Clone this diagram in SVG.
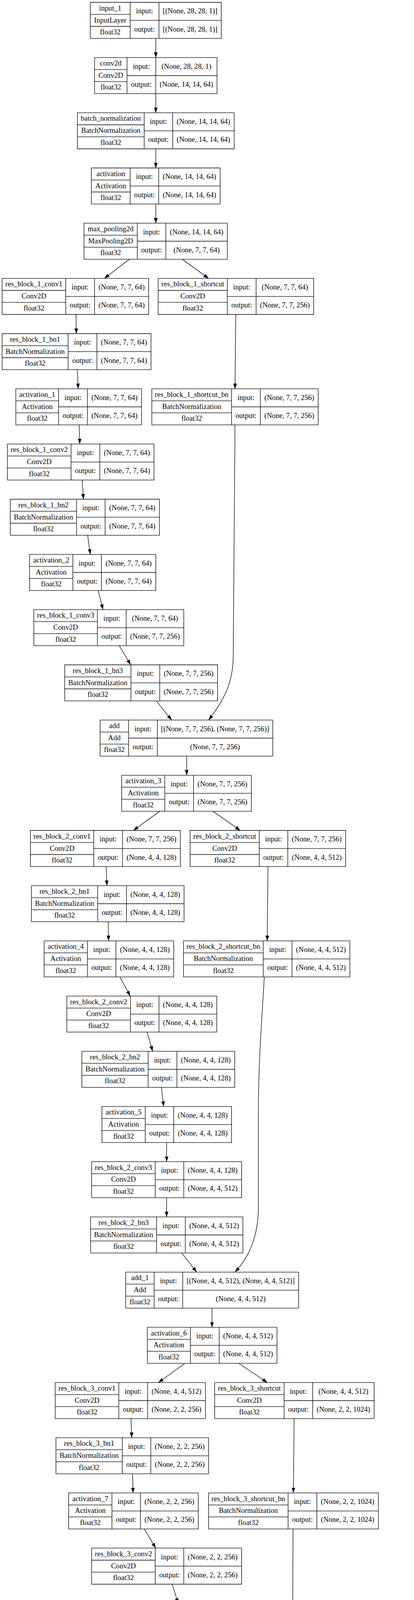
<svg xmlns="http://www.w3.org/2000/svg" width="1059" height="6605" viewBox="0 0 1059 6605">
<style>
.b{fill:#fff;stroke:#000;stroke-width:1.33}
text{font-family:"Liberation Serif","Times New Roman",serif;font-size:18.67px;text-anchor:middle;fill:#000}
.e{fill:none;stroke:#000;stroke-width:1.33;marker-end:url(#ah)}
</style>
<defs>
<marker id="ah" viewBox="0 0 10 7" refX="10" refY="3.5" markerWidth="10" markerHeight="7" orient="auto" markerUnits="strokeWidth"><path d="M0,0L10,3.5L0,7z" fill="#000"/></marker>
</defs>
<rect width="1059" height="6605" fill="#fff"/>
<g id="connectors">
<path class="e" d="M398.5 98.3L398.5 147.3"/>
<path class="e" d="M398.5 239.6L398.5 288.7"/>
<path class="e" d="M398.5 381L398.5 430"/>
<path class="e" d="M398.5 522.3L398.5 571.3"/>
<path class="e" d="M331 663.6L266.8 712.7"/>
<path class="e" d="M466 663.6L533.6 712.7"/>
<path class="e" d="M194.5 805L195.2 854"/>
<path class="e" d="M197.9 946.3L199.9 995.3"/>
<path class="e" d="M603.1 805L601.1 995.3"/>
<path class="e" d="M202.6 1087.6L204 1136.6"/>
<path class="e" d="M210.1 1228.9L213.4 1278"/>
<path class="e" d="M224.2 1370.3L231 1419.3"/>
<path class="e" d="M251.3 1511.6L263.4 1560.6"/>
<path class="e" d="M305 1652.9L334.3 1702"/>
<path class="e" d="M399.8 1794.3L439 1843.3"/>
<path class="e" d="M601.1 1087.6L596.6 1680C596.2 1745 575 1790 533.6 1843.3"/>
<path class="e" d="M477.5 1935.6L477.5 1984.6"/>
<path class="e" d="M408.6 2076.9L341.1 2126"/>
<path class="e" d="M545.1 2076.9L614.6 2126"/>
<path class="e" d="M271.5 2218.3L273.5 2267.3"/>
<path class="e" d="M276.9 2359.6L277.6 2408.6"/>
<path class="e" d="M685.5 2218.3L683.5 2408.6"/>
<path class="e" d="M306.6 2500.9L333 2549.9"/>
<path class="e" d="M376.2 2642.2L390.4 2691.3"/>
<path class="e" d="M412.7 2783.6L418.7 2832.6"/>
<path class="e" d="M426.2 2924.9L426.2 2973.9"/>
<path class="e" d="M426.2 3066.2L426.2 3115.3"/>
<path class="e" d="M464.7 3207.6L503.2 3256.6"/>
<path class="e" d="M676.1 2500.9C668 2640 661 2720 661 2850L661 3090C661 3160 640 3215 601.1 3256.6"/>
<path class="e" d="M542.3 3348.9L542.3 3397.9"/>
<path class="e" d="M472.8 3490.2L405.2 3539.3"/>
<path class="e" d="M611.2 3490.2L683.5 3539.3"/>
<path class="e" d="M335 3631.6L337 3680.6"/>
<path class="e" d="M339.1 3772.9L340.4 3821.9"/>
<path class="e" d="M752.4 3631.6L750.4 3821.9"/>
<path class="e" d="M368.8 3914.2L398.5 3963.2"/>
<path class="e" d="M440.4 4055.5L455.9 4104.6"/>
<path class="e" d="M476.8 4196.9L483.6 4245.9"/>
<path class="e" d="M494.4 4338.2L497.8 4387.2"/>
<path class="e" d="M502.5 4479.5L503.9 4528.6"/>
<path class="e" d="M545.7 4620.9L586.3 4669.9"/>
<path class="e" d="M749.7 3914.2L747 4420C747 4540 718 4625 684.2 4669.9"/>
<path class="e" d="M624.7 4762.2L624.7 4811.2"/>
<path class="e" d="M555.9 4903.5L486.3 4952.6"/>
<path class="e" d="M694.3 4903.5L766.6 4952.6"/>
<path class="e" d="M415.4 5044.9L417.4 5093.9"/>
<path class="e" d="M420.8 5186.2L421.5 5235.2"/>
<path class="e" d="M838.2 5044.9L836.1 5235.2"/>
<path class="e" d="M450.5 5327.5L479.5 5376.5"/>
<path class="e" d="M524.1 5468.8L538.3 5517.9"/>
<path class="e" d="M560.6 5610.2L566 5659.2"/>
<path class="e" d="M578.1 5751.5L581.5 5800.5"/>
<path class="e" d="M587.6 5892.8L588.9 5941.9"/>
<path class="e" d="M629.5 6034.2L670.7 6083.2"/>
<path class="e" d="M834.8 5327.5L830.7 5900C830.5 5990 805 6030 766.6 6083.2"/>
<path class="e" d="M708.5 6175.5L708.5 6224.5"/>
<path class="e" d="M708.5 6316.8L708.5 6365.8"/>
<path class="e" d="M708.5 6458.1L708.5 6507.2"/>
</g>

<g id="input_1" transform="translate(231,6)"><path class="b" d="M0 0H335V92.3H0ZM102 0V92.3M175.6 0V92.3M0 30.8H102M0 61.5H102M102 46.2H335"/><text x="51" y="20.7">input_1</text><text x="51" y="51.5">InputLayer</text><text x="51" y="82.2">float32</text><text x="138.8" y="28.4">input:</text><text x="138.8" y="74.5">output:</text><text x="255.3" y="28.4">[(None, 28, 28, 1)]</text><text x="255.3" y="74.5">[(None, 28, 28, 1)]</text></g>

<g id="conv2d" transform="translate(241.8,147.3)"><path class="b" d="M0 0H313.4V92.3H0ZM83.1 0V92.3M156.7 0V92.3M0 30.8H83.1M0 61.5H83.1M83.1 46.2H313.4"/><text x="41.6" y="20.7">conv2d</text><text x="41.6" y="51.5">Conv2D</text><text x="41.6" y="82.2">float32</text><text x="119.9" y="28.4">input:</text><text x="119.9" y="74.5">output:</text><text x="235.1" y="28.4">(None, 28, 28, 1)</text><text x="235.1" y="74.5">(None, 14, 14, 64)</text></g>

<g id="batch_normalization" transform="translate(197.9,288.7)"><path class="b" d="M0 0H401.2V92.3H0ZM170.9 0V92.3M243.8 0V92.3M0 30.8H170.9M0 61.5H170.9M170.9 46.2H401.2"/><text x="85.5" y="20.7">batch_normalization</text><text x="85.5" y="51.5">BatchNormalization</text><text x="85.5" y="82.2">float32</text><text x="207.4" y="28.4">input:</text><text x="207.4" y="74.5">output:</text><text x="322.5" y="28.4">(None, 14, 14, 64)</text><text x="322.5" y="74.5">(None, 14, 14, 64)</text></g>

<g id="activation" transform="translate(233.7,430)"><path class="b" d="M0 0H329.6V92.3H0ZM99.3 0V92.3M172.2 0V92.3M0 30.8H99.3M0 61.5H99.3M99.3 46.2H329.6"/><text x="49.7" y="20.7">activation</text><text x="49.7" y="51.5">Activation</text><text x="49.7" y="82.2">float32</text><text x="135.8" y="28.4">input:</text><text x="135.8" y="74.5">output:</text><text x="250.9" y="28.4">(None, 14, 14, 64)</text><text x="250.9" y="74.5">(None, 14, 14, 64)</text></g>

<g id="max_pooling2d" transform="translate(214.8,571.3)"><path class="b" d="M0 0H366.7V92.3H0ZM136.4 0V92.3M209.4 0V92.3M0 30.8H136.4M0 61.5H136.4M136.4 46.2H366.7"/><text x="68.2" y="20.7">max_pooling2d</text><text x="68.2" y="51.5">MaxPooling2D</text><text x="68.2" y="82.2">float32</text><text x="172.9" y="28.4">input:</text><text x="172.9" y="74.5">output:</text><text x="288.1" y="28.4">(None, 14, 14, 64)</text><text x="288.1" y="74.5">(None, 7, 7, 64)</text></g>

<g id="res_block_1_conv1" transform="translate(5.4,712.7)"><path class="b" d="M0 0H374.9V92.3H0ZM162.8 0V92.3M236.4 0V92.3M0 30.8H162.8M0 61.5H162.8M162.8 46.2H374.9"/><text x="81.4" y="20.7">res_block_1_conv1</text><text x="81.4" y="51.5">Conv2D</text><text x="81.4" y="82.2">float32</text><text x="199.6" y="28.4">input:</text><text x="199.6" y="74.5">output:</text><text x="305.7" y="28.4">(None, 7, 7, 64)</text><text x="305.7" y="74.5">(None, 7, 7, 64)</text></g>

<g id="res_block_1_shortcut" transform="translate(404.6,712.7)"><path class="b" d="M0 0H397.8V92.3H0ZM176.9 0V92.3M250.5 0V92.3M0 30.8H176.9M0 61.5H176.9M176.9 46.2H397.8"/><text x="88.5" y="20.7">res_block_1_shortcut</text><text x="88.5" y="51.5">Conv2D</text><text x="88.5" y="82.2">float32</text><text x="213.7" y="28.4">input:</text><text x="213.7" y="74.5">output:</text><text x="324.2" y="28.4">(None, 7, 7, 64)</text><text x="324.2" y="74.5">(None, 7, 7, 256)</text></g>

<g id="res_block_1_bn1" transform="translate(5.4,854)"><path class="b" d="M0 0H380.9V92.3H0ZM168.9 0V92.3M242.5 0V92.3M0 30.8H168.9M0 61.5H168.9M168.9 46.2H380.9"/><text x="84.5" y="20.7">res_block_1_bn1</text><text x="84.5" y="51.5">BatchNormalization</text><text x="84.5" y="82.2">float32</text><text x="205.7" y="28.4">input:</text><text x="205.7" y="74.5">output:</text><text x="311.7" y="28.4">(None, 7, 7, 64)</text><text x="311.7" y="74.5">(None, 7, 7, 64)</text></g>

<g id="activation_1" transform="translate(40.5,995.3)"><path class="b" d="M0 0H321.5V92.3H0ZM109.4 0V92.3M183.1 0V92.3M0 30.8H109.4M0 61.5H109.4M109.4 46.2H321.5"/><text x="54.7" y="20.7">activation_1</text><text x="54.7" y="51.5">Activation</text><text x="54.7" y="82.2">float32</text><text x="146.3" y="28.4">input:</text><text x="146.3" y="74.5">output:</text><text x="252.3" y="28.4">(None, 7, 7, 64)</text><text x="252.3" y="74.5">(None, 7, 7, 64)</text></g>

<g id="res_block_1_shortcut_bn" transform="translate(388.4,995.3)"><path class="b" d="M0 0H425.5V92.3H0ZM203.9 0V92.3M277.5 0V92.3M0 30.8H203.9M0 61.5H203.9M203.9 46.2H425.5"/><text x="102" y="20.7">res_block_1_shortcut_bn</text><text x="102" y="51.5">BatchNormalization</text><text x="102" y="82.2">float32</text><text x="240.7" y="28.4">input:</text><text x="240.7" y="74.5">output:</text><text x="351.5" y="28.4">(None, 7, 7, 256)</text><text x="351.5" y="74.5">(None, 7, 7, 256)</text></g>

<g id="res_block_1_conv2" transform="translate(18.9,1136.6)"><path class="b" d="M0 0H374.9V92.3H0ZM162.8 0V92.3M236.4 0V92.3M0 30.8H162.8M0 61.5H162.8M162.8 46.2H374.9"/><text x="81.4" y="20.7">res_block_1_conv2</text><text x="81.4" y="51.5">Conv2D</text><text x="81.4" y="82.2">float32</text><text x="199.6" y="28.4">input:</text><text x="199.6" y="74.5">output:</text><text x="305.7" y="28.4">(None, 7, 7, 64)</text><text x="305.7" y="74.5">(None, 7, 7, 64)</text></g>

<g id="res_block_1_bn2" transform="translate(26.3,1278)"><path class="b" d="M0 0H381.6V92.3H0ZM169.6 0V92.3M242.5 0V92.3M0 30.8H169.6M0 61.5H169.6M169.6 46.2H381.6"/><text x="84.8" y="20.7">res_block_1_bn2</text><text x="84.8" y="51.5">BatchNormalization</text><text x="84.8" y="82.2">float32</text><text x="206.1" y="28.4">input:</text><text x="206.1" y="74.5">output:</text><text x="312.1" y="28.4">(None, 7, 7, 64)</text><text x="312.1" y="74.5">(None, 7, 7, 64)</text></g>

<g id="activation_2" transform="translate(75.6,1419.3)"><path class="b" d="M0 0H322.9V92.3H0ZM110.8 0V92.3M183.8 0V92.3M0 30.8H110.8M0 61.5H110.8M110.8 46.2H322.9"/><text x="55.4" y="20.7">activation_2</text><text x="55.4" y="51.5">Activation</text><text x="55.4" y="82.2">float32</text><text x="147.3" y="28.4">input:</text><text x="147.3" y="74.5">output:</text><text x="253.4" y="28.4">(None, 7, 7, 64)</text><text x="253.4" y="74.5">(None, 7, 7, 64)</text></g>

<g id="res_block_1_conv3" transform="translate(86.5,1560.6)"><path class="b" d="M0 0H383.6V92.3H0ZM162.7 0V92.3M236.3 0V92.3M0 30.8H162.7M0 61.5H162.7M162.7 46.2H383.6"/><text x="81.4" y="20.7">res_block_1_conv3</text><text x="81.4" y="51.5">Conv2D</text><text x="81.4" y="82.2">float32</text><text x="199.5" y="28.4">input:</text><text x="199.5" y="74.5">output:</text><text x="310" y="28.4">(None, 7, 7, 64)</text><text x="310" y="74.5">(None, 7, 7, 256)</text></g>

<g id="res_block_1_bn3" transform="translate(165.5,1702)"><path class="b" d="M0 0H391V92.3H0ZM169.5 0V92.3M243.1 0V92.3M0 30.8H169.5M0 61.5H169.5M169.5 46.2H391"/><text x="84.8" y="20.7">res_block_1_bn3</text><text x="84.8" y="51.5">BatchNormalization</text><text x="84.8" y="82.2">float32</text><text x="206.3" y="28.4">input:</text><text x="206.3" y="74.5">output:</text><text x="317.1" y="28.4">(None, 7, 7, 256)</text><text x="317.1" y="74.5">(None, 7, 7, 256)</text></g>

<g id="add" transform="translate(256,1843.3)"><path class="b" d="M0 0H441.7V92.3H0ZM72.9 0V92.3M146.5 0V92.3M0 30.8H72.9M0 61.5H72.9M72.9 46.2H441.7"/><text x="36.5" y="20.7">add</text><text x="36.5" y="51.5">Add</text><text x="36.5" y="82.2">float32</text><text x="109.7" y="28.4">input:</text><text x="109.7" y="74.5">output:</text><text x="294.1" y="28.4">[(None, 7, 7, 256), (None, 7, 7, 256)]</text><text x="294.1" y="74.5">(None, 7, 7, 256)</text></g>

<g id="activation_3" transform="translate(311.4,1984.6)"><path class="b" d="M0 0H331.6V92.3H0ZM110.1 0V92.3M183.7 0V92.3M0 30.8H110.1M0 61.5H110.1M110.1 46.2H331.6"/><text x="55.1" y="20.7">activation_3</text><text x="55.1" y="51.5">Activation</text><text x="55.1" y="82.2">float32</text><text x="146.9" y="28.4">input:</text><text x="146.9" y="74.5">output:</text><text x="257.7" y="28.4">(None, 7, 7, 256)</text><text x="257.7" y="74.5">(None, 7, 7, 256)</text></g>

<g id="res_block_2_conv1" transform="translate(77.7,2126)"><path class="b" d="M0 0H383.6V92.3H0ZM162.1 0V92.3M235.7 0V92.3M0 30.8H162.1M0 61.5H162.1M162.1 46.2H383.6"/><text x="81.1" y="20.7">res_block_2_conv1</text><text x="81.1" y="51.5">Conv2D</text><text x="81.1" y="82.2">float32</text><text x="198.9" y="28.4">input:</text><text x="198.9" y="74.5">output:</text><text x="309.7" y="28.4">(None, 7, 7, 256)</text><text x="309.7" y="74.5">(None, 4, 4, 128)</text></g>

<g id="res_block_2_shortcut" transform="translate(486.3,2126)"><path class="b" d="M0 0H397.8V92.3H0ZM176.9 0V92.3M249.9 0V92.3M0 30.8H176.9M0 61.5H176.9M176.9 46.2H397.8"/><text x="88.5" y="20.7">res_block_2_shortcut</text><text x="88.5" y="51.5">Conv2D</text><text x="88.5" y="82.2">float32</text><text x="213.4" y="28.4">input:</text><text x="213.4" y="74.5">output:</text><text x="323.9" y="28.4">(None, 7, 7, 256)</text><text x="323.9" y="74.5">(None, 4, 4, 512)</text></g>

<g id="res_block_2_bn1" transform="translate(80.4,2267.3)"><path class="b" d="M0 0H390.4V92.3H0ZM169.5 0V92.3M243.1 0V92.3M0 30.8H169.5M0 61.5H169.5M169.5 46.2H390.4"/><text x="84.8" y="20.7">res_block_2_bn1</text><text x="84.8" y="51.5">BatchNormalization</text><text x="84.8" y="82.2">float32</text><text x="206.3" y="28.4">input:</text><text x="206.3" y="74.5">output:</text><text x="316.8" y="28.4">(None, 4, 4, 128)</text><text x="316.8" y="74.5">(None, 4, 4, 128)</text></g>

<g id="activation_4" transform="translate(112.8,2408.6)"><path class="b" d="M0 0H331.6V92.3H0ZM110.8 0V92.3M183.7 0V92.3M0 30.8H110.8M0 61.5H110.8M110.8 46.2H331.6"/><text x="55.4" y="20.7">activation_4</text><text x="55.4" y="51.5">Activation</text><text x="55.4" y="82.2">float32</text><text x="147.3" y="28.4">input:</text><text x="147.3" y="74.5">output:</text><text x="257.7" y="28.4">(None, 4, 4, 128)</text><text x="257.7" y="74.5">(None, 4, 4, 128)</text></g>

<g id="res_block_2_shortcut_bn" transform="translate(469.4,2408.6)"><path class="b" d="M0 0H425.5V92.3H0ZM204 0V92.3M277.6 0V92.3M0 30.8H204M0 61.5H204M204 46.2H425.5"/><text x="102" y="20.7">res_block_2_shortcut_bn</text><text x="102" y="51.5">BatchNormalization</text><text x="102" y="82.2">float32</text><text x="240.8" y="28.4">input:</text><text x="240.8" y="74.5">output:</text><text x="351.6" y="28.4">(None, 4, 4, 512)</text><text x="351.6" y="74.5">(None, 4, 4, 512)</text></g>

<g id="res_block_2_conv2" transform="translate(170.9,2549.9)"><path class="b" d="M0 0H383.6V92.3H0ZM162.7 0V92.3M235.7 0V92.3M0 30.8H162.7M0 61.5H162.7M162.7 46.2H383.6"/><text x="81.4" y="20.7">res_block_2_conv2</text><text x="81.4" y="51.5">Conv2D</text><text x="81.4" y="82.2">float32</text><text x="199.2" y="28.4">input:</text><text x="199.2" y="74.5">output:</text><text x="309.7" y="28.4">(None, 4, 4, 128)</text><text x="309.7" y="74.5">(None, 4, 4, 128)</text></g>

<g id="res_block_2_bn2" transform="translate(209.4,2691.3)"><path class="b" d="M0 0H391V92.3H0ZM169.5 0V92.3M243.1 0V92.3M0 30.8H169.5M0 61.5H169.5M169.5 46.2H391"/><text x="84.8" y="20.7">res_block_2_bn2</text><text x="84.8" y="51.5">BatchNormalization</text><text x="84.8" y="82.2">float32</text><text x="206.3" y="28.4">input:</text><text x="206.3" y="74.5">output:</text><text x="317.1" y="28.4">(None, 4, 4, 128)</text><text x="317.1" y="74.5">(None, 4, 4, 128)</text></g>

<g id="activation_5" transform="translate(260.7,2832.6)"><path class="b" d="M0 0H331.6V92.3H0ZM110.8 0V92.3M183.7 0V92.3M0 30.8H110.8M0 61.5H110.8M110.8 46.2H331.6"/><text x="55.4" y="20.7">activation_5</text><text x="55.4" y="51.5">Activation</text><text x="55.4" y="82.2">float32</text><text x="147.3" y="28.4">input:</text><text x="147.3" y="74.5">output:</text><text x="257.7" y="28.4">(None, 4, 4, 128)</text><text x="257.7" y="74.5">(None, 4, 4, 128)</text></g>

<g id="res_block_2_conv3" transform="translate(234.4,2973.9)"><path class="b" d="M0 0H383.6V92.3H0ZM162.7 0V92.3M235.7 0V92.3M0 30.8H162.7M0 61.5H162.7M162.7 46.2H383.6"/><text x="81.4" y="20.7">res_block_2_conv3</text><text x="81.4" y="51.5">Conv2D</text><text x="81.4" y="82.2">float32</text><text x="199.2" y="28.4">input:</text><text x="199.2" y="74.5">output:</text><text x="309.7" y="28.4">(None, 4, 4, 128)</text><text x="309.7" y="74.5">(None, 4, 4, 512)</text></g>

<g id="res_block_2_bn3" transform="translate(231.7,3115.3)"><path class="b" d="M0 0H389.7V92.3H0ZM168.8 0V92.3M242.4 0V92.3M0 30.8H168.8M0 61.5H168.8M168.8 46.2H389.7"/><text x="84.4" y="20.7">res_block_2_bn3</text><text x="84.4" y="51.5">BatchNormalization</text><text x="84.4" y="82.2">float32</text><text x="205.6" y="28.4">input:</text><text x="205.6" y="74.5">output:</text><text x="316.1" y="28.4">(None, 4, 4, 512)</text><text x="316.1" y="74.5">(None, 4, 4, 512)</text></g>

<g id="add_1" transform="translate(321.5,3256.6)"><path class="b" d="M0 0H442.4V92.3H0ZM72.9 0V92.3M145.9 0V92.3M0 30.8H72.9M0 61.5H72.9M72.9 46.2H442.4"/><text x="36.5" y="20.7">add_1</text><text x="36.5" y="51.5">Add</text><text x="36.5" y="82.2">float32</text><text x="109.4" y="28.4">input:</text><text x="109.4" y="74.5">output:</text><text x="294.2" y="28.4">[(None, 4, 4, 512), (None, 4, 4, 512)]</text><text x="294.2" y="74.5">(None, 4, 4, 512)</text></g>

<g id="activation_6" transform="translate(376.9,3397.9)"><path class="b" d="M0 0H331.6V92.3H0ZM110.1 0V92.3M183.7 0V92.3M0 30.8H110.1M0 61.5H110.1M110.1 46.2H331.6"/><text x="55.1" y="20.7">activation_6</text><text x="55.1" y="51.5">Activation</text><text x="55.1" y="82.2">float32</text><text x="146.9" y="28.4">input:</text><text x="146.9" y="74.5">output:</text><text x="257.7" y="28.4">(None, 4, 4, 512)</text><text x="257.7" y="74.5">(None, 4, 4, 512)</text></g>

<g id="res_block_3_conv1" transform="translate(141.2,3539.3)"><path class="b" d="M0 0H384.3V92.3H0ZM162.7 0V92.3M236.4 0V92.3M0 30.8H162.7M0 61.5H162.7M162.7 46.2H384.3"/><text x="81.4" y="20.7">res_block_3_conv1</text><text x="81.4" y="51.5">Conv2D</text><text x="81.4" y="82.2">float32</text><text x="199.6" y="28.4">input:</text><text x="199.6" y="74.5">output:</text><text x="310.4" y="28.4">(None, 4, 4, 512)</text><text x="310.4" y="74.5">(None, 2, 2, 256)</text></g>

<g id="res_block_3_shortcut" transform="translate(549.1,3539.3)"><path class="b" d="M0 0H407.9V92.3H0ZM177.6 0V92.3M250.6 0V92.3M0 30.8H177.6M0 61.5H177.6M177.6 46.2H407.9"/><text x="88.8" y="20.7">res_block_3_shortcut</text><text x="88.8" y="51.5">Conv2D</text><text x="88.8" y="82.2">float32</text><text x="214.1" y="28.4">input:</text><text x="214.1" y="74.5">output:</text><text x="329.3" y="28.4">(None, 4, 4, 512)</text><text x="329.3" y="74.5">(None, 2, 2, 1024)</text></g>

<g id="res_block_3_bn1" transform="translate(143.2,3680.6)"><path class="b" d="M0 0H390.4V92.3H0ZM169.5 0V92.3M242.5 0V92.3M0 30.8H169.5M0 61.5H169.5M169.5 46.2H390.4"/><text x="84.8" y="20.7">res_block_3_bn1</text><text x="84.8" y="51.5">BatchNormalization</text><text x="84.8" y="82.2">float32</text><text x="206" y="28.4">input:</text><text x="206" y="74.5">output:</text><text x="316.5" y="28.4">(None, 2, 2, 256)</text><text x="316.5" y="74.5">(None, 2, 2, 256)</text></g>

<g id="activation_7" transform="translate(175.6,3821.9)"><path class="b" d="M0 0H331.6V92.3H0ZM110.8 0V92.3M183.7 0V92.3M0 30.8H110.8M0 61.5H110.8M110.8 46.2H331.6"/><text x="55.4" y="20.7">activation_7</text><text x="55.4" y="51.5">Activation</text><text x="55.4" y="82.2">float32</text><text x="147.3" y="28.4">input:</text><text x="147.3" y="74.5">output:</text><text x="257.7" y="28.4">(None, 2, 2, 256)</text><text x="257.7" y="74.5">(None, 2, 2, 256)</text></g>

<g id="res_block_3_shortcut_bn" transform="translate(533.6,3821.9)"><path class="b" d="M0 0H434.3V92.3H0ZM203.3 0V92.3M276.9 0V92.3M0 30.8H203.3M0 61.5H203.3M203.3 46.2H434.3"/><text x="101.7" y="20.7">res_block_3_shortcut_bn</text><text x="101.7" y="51.5">BatchNormalization</text><text x="101.7" y="82.2">float32</text><text x="240.1" y="28.4">input:</text><text x="240.1" y="74.5">output:</text><text x="355.6" y="28.4">(None, 2, 2, 1024)</text><text x="355.6" y="74.5">(None, 2, 2, 1024)</text></g>

<g id="res_block_3_conv2" transform="translate(234.4,3963.2)"><path class="b" d="M0 0H383.6V92.3H0ZM162.7 0V92.3M235.7 0V92.3M0 30.8H162.7M0 61.5H162.7M162.7 46.2H383.6"/><text x="81.4" y="20.7">res_block_3_conv2</text><text x="81.4" y="51.5">Conv2D</text><text x="81.4" y="82.2">float32</text><text x="199.2" y="28.4">input:</text><text x="199.2" y="74.5">output:</text><text x="309.7" y="28.4">(None, 2, 2, 256)</text><text x="309.7" y="74.5">(None, 2, 2, 256)</text></g>

<g id="res_block_3_bn2" transform="translate(273.5,4104.6)"><path class="b" d="M0 0H391.1V92.3H0ZM169.6 0V92.3M243.2 0V92.3M0 30.8H169.6M0 61.5H169.6M169.6 46.2H391.1"/><text x="84.8" y="20.7">res_block_3_bn2</text><text x="84.8" y="51.5">BatchNormalization</text><text x="84.8" y="82.2">float32</text><text x="206.4" y="28.4">input:</text><text x="206.4" y="74.5">output:</text><text x="317.2" y="28.4">(None, 2, 2, 256)</text><text x="317.2" y="74.5">(None, 2, 2, 256)</text></g>

<g id="activation_8" transform="translate(324.9,4245.9)"><path class="b" d="M0 0H331.6V92.3H0ZM110.7 0V92.3M183.7 0V92.3M0 30.8H110.7M0 61.5H110.7M110.7 46.2H331.6"/><text x="55.4" y="20.7">activation_8</text><text x="55.4" y="51.5">Activation</text><text x="55.4" y="82.2">float32</text><text x="147.2" y="28.4">input:</text><text x="147.2" y="74.5">output:</text><text x="257.7" y="28.4">(None, 2, 2, 256)</text><text x="257.7" y="74.5">(None, 2, 2, 256)</text></g>

<g id="res_block_3_conv3" transform="translate(304.6,4387.2)"><path class="b" d="M0 0H393.1V92.3H0ZM162.8 0V92.3M236.4 0V92.3M0 30.8H162.8M0 61.5H162.8M162.8 46.2H393.1"/><text x="81.4" y="20.7">res_block_3_conv3</text><text x="81.4" y="51.5">Conv2D</text><text x="81.4" y="82.2">float32</text><text x="199.6" y="28.4">input:</text><text x="199.6" y="74.5">output:</text><text x="314.8" y="28.4">(None, 2, 2, 256)</text><text x="314.8" y="74.5">(None, 2, 2, 1024)</text></g>

<g id="res_block_3_bn3" transform="translate(306.6,4528.6)"><path class="b" d="M0 0H399.9V92.3H0ZM169.6 0V92.3M242.5 0V92.3M0 30.8H169.6M0 61.5H169.6M169.6 46.2H399.9"/><text x="84.8" y="20.7">res_block_3_bn3</text><text x="84.8" y="51.5">BatchNormalization</text><text x="84.8" y="82.2">float32</text><text x="206.1" y="28.4">input:</text><text x="206.1" y="74.5">output:</text><text x="321.2" y="28.4">(None, 2, 2, 1024)</text><text x="321.2" y="74.5">(None, 2, 2, 1024)</text></g>

<g id="add_2" transform="translate(394.4,4669.9)"><path class="b" d="M0 0H461.3V92.3H0ZM73 0V92.3M147.3 0V92.3M0 30.8H73M0 61.5H73M73 46.2H461.3"/><text x="36.5" y="20.7">add_2</text><text x="36.5" y="51.5">Add</text><text x="36.5" y="82.2">float32</text><text x="110.2" y="28.4">input:</text><text x="110.2" y="74.5">output:</text><text x="304.3" y="28.4">[(None, 2, 2, 1024), (None, 2, 2, 1024)]</text><text x="304.3" y="74.5">(None, 2, 2, 1024)</text></g>

<g id="activation_9" transform="translate(454.5,4811.2)"><path class="b" d="M0 0H341.1V92.3H0ZM110.8 0V92.3M183.8 0V92.3M0 30.8H110.8M0 61.5H110.8M110.8 46.2H341.1"/><text x="55.4" y="20.7">activation_9</text><text x="55.4" y="51.5">Activation</text><text x="55.4" y="82.2">float32</text><text x="147.3" y="28.4">input:</text><text x="147.3" y="74.5">output:</text><text x="262.5" y="28.4">(None, 2, 2, 1024)</text><text x="262.5" y="74.5">(None, 2, 2, 1024)</text></g>

<g id="res_block_4_conv1" transform="translate(216.1,4952.6)"><path class="b" d="M0 0H393.8V92.3H0ZM163.5 0V92.3M236.4 0V92.3M0 30.8H163.5M0 61.5H163.5M163.5 46.2H393.8"/><text x="81.8" y="20.7">res_block_4_conv1</text><text x="81.8" y="51.5">Conv2D</text><text x="81.8" y="82.2">float32</text><text x="200" y="28.4">input:</text><text x="200" y="74.5">output:</text><text x="315.1" y="28.4">(None, 2, 2, 1024)</text><text x="315.1" y="74.5">(None, 1, 1, 512)</text></g>

<g id="res_block_4_shortcut" transform="translate(634.9,4952.6)"><path class="b" d="M0 0H407.3V92.3H0ZM176.9 0V92.3M249.9 0V92.3M0 30.8H176.9M0 61.5H176.9M176.9 46.2H407.3"/><text x="88.5" y="20.7">res_block_4_shortcut</text><text x="88.5" y="51.5">Conv2D</text><text x="88.5" y="82.2">float32</text><text x="213.4" y="28.4">input:</text><text x="213.4" y="74.5">output:</text><text x="328.6" y="28.4">(None, 2, 2, 1024)</text><text x="328.6" y="74.5">(None, 1, 1, 2048)</text></g>

<g id="res_block_4_bn1" transform="translate(224.9,5093.9)"><path class="b" d="M0 0H389.7V92.3H0ZM168.9 0V92.3M242.5 0V92.3M0 30.8H168.9M0 61.5H168.9M168.9 46.2H389.7"/><text x="84.5" y="20.7">res_block_4_bn1</text><text x="84.5" y="51.5">BatchNormalization</text><text x="84.5" y="82.2">float32</text><text x="205.7" y="28.4">input:</text><text x="205.7" y="74.5">output:</text><text x="316.1" y="28.4">(None, 1, 1, 512)</text><text x="316.1" y="74.5">(None, 1, 1, 512)</text></g>

<g id="activation_10" transform="translate(251.9,5235.2)"><path class="b" d="M0 0H341.1V92.3H0ZM119.6 0V92.3M193.2 0V92.3M0 30.8H119.6M0 61.5H119.6M119.6 46.2H341.1"/><text x="59.8" y="20.7">activation_10</text><text x="59.8" y="51.5">Activation</text><text x="59.8" y="82.2">float32</text><text x="156.4" y="28.4">input:</text><text x="156.4" y="74.5">output:</text><text x="267.2" y="28.4">(None, 1, 1, 512)</text><text x="267.2" y="74.5">(None, 1, 1, 512)</text></g>

<g id="res_block_4_shortcut_bn" transform="translate(618.7,5235.2)"><path class="b" d="M0 0H434.3V92.3H0ZM203.9 0V92.3M276.9 0V92.3M0 30.8H203.9M0 61.5H203.9M203.9 46.2H434.3"/><text x="102" y="20.7">res_block_4_shortcut_bn</text><text x="102" y="51.5">BatchNormalization</text><text x="102" y="82.2">float32</text><text x="240.4" y="28.4">input:</text><text x="240.4" y="74.5">output:</text><text x="355.6" y="28.4">(None, 1, 1, 2048)</text><text x="355.6" y="74.5">(None, 1, 1, 2048)</text></g>

<g id="res_block_4_conv2" transform="translate(317.4,5376.5)"><path class="b" d="M0 0H383.7V92.3H0ZM162.8 0V92.3M235.8 0V92.3M0 30.8H162.8M0 61.5H162.8M162.8 46.2H383.7"/><text x="81.4" y="20.7">res_block_4_conv2</text><text x="81.4" y="51.5">Conv2D</text><text x="81.4" y="82.2">float32</text><text x="199.3" y="28.4">input:</text><text x="199.3" y="74.5">output:</text><text x="309.8" y="28.4">(None, 1, 1, 512)</text><text x="309.8" y="74.5">(None, 1, 1, 512)</text></g>

<g id="res_block_4_bn2" transform="translate(358,5517.9)"><path class="b" d="M0 0H390.3V92.3H0ZM169.5 0V92.3M242.4 0V92.3M0 30.8H169.5M0 61.5H169.5M169.5 46.2H390.3"/><text x="84.8" y="20.7">res_block_4_bn2</text><text x="84.8" y="51.5">BatchNormalization</text><text x="84.8" y="82.2">float32</text><text x="206" y="28.4">input:</text><text x="206" y="74.5">output:</text><text x="316.4" y="28.4">(None, 1, 1, 512)</text><text x="316.4" y="74.5">(None, 1, 1, 512)</text></g>

<g id="activation_11" transform="translate(403.9,5659.2)"><path class="b" d="M0 0H341.1V92.3H0ZM120.2 0V92.3M193.2 0V92.3M0 30.8H120.2M0 61.5H120.2M120.2 46.2H341.1"/><text x="60.1" y="20.7">activation_11</text><text x="60.1" y="51.5">Activation</text><text x="60.1" y="82.2">float32</text><text x="156.7" y="28.4">input:</text><text x="156.7" y="74.5">output:</text><text x="267.2" y="28.4">(None, 1, 1, 512)</text><text x="267.2" y="74.5">(None, 1, 1, 512)</text></g>

<g id="res_block_4_conv3" transform="translate(388.4,5800.5)"><path class="b" d="M0 0H393V92.3H0ZM162.7 0V92.3M236.3 0V92.3M0 30.8H162.7M0 61.5H162.7M162.7 46.2H393"/><text x="81.4" y="20.7">res_block_4_conv3</text><text x="81.4" y="51.5">Conv2D</text><text x="81.4" y="82.2">float32</text><text x="199.5" y="28.4">input:</text><text x="199.5" y="74.5">output:</text><text x="314.7" y="28.4">(None, 1, 1, 512)</text><text x="314.7" y="74.5">(None, 1, 1, 2048)</text></g>

<g id="res_block_4_bn3" transform="translate(390.4,5941.9)"><path class="b" d="M0 0H399.8V92.3H0ZM169.5 0V92.3M242.5 0V92.3M0 30.8H169.5M0 61.5H169.5M169.5 46.2H399.8"/><text x="84.8" y="20.7">res_block_4_bn3</text><text x="84.8" y="51.5">BatchNormalization</text><text x="84.8" y="82.2">float32</text><text x="206" y="28.4">input:</text><text x="206" y="74.5">output:</text><text x="321.2" y="28.4">(None, 1, 1, 2048)</text><text x="321.2" y="74.5">(None, 1, 1, 2048)</text></g>

<g id="add_3" transform="translate(478.2,6083.2)"><path class="b" d="M0 0H461.3V92.3H0ZM73.6 0V92.3M147.2 0V92.3M0 30.8H73.6M0 61.5H73.6M73.6 46.2H461.3"/><text x="36.8" y="20.7">add_3</text><text x="36.8" y="51.5">Add</text><text x="36.8" y="82.2">float32</text><text x="110.4" y="28.4">input:</text><text x="110.4" y="74.5">output:</text><text x="304.3" y="28.4">[(None, 1, 1, 2048), (None, 1, 1, 2048)]</text><text x="304.3" y="74.5">(None, 1, 1, 2048)</text></g>

<g id="activation_12" transform="translate(533.6,6224.5)"><path class="b" d="M0 0H350.5V92.3H0ZM120.2 0V92.3M193.1 0V92.3M0 30.8H120.2M0 61.5H120.2M120.2 46.2H350.5"/><text x="60.1" y="20.7">activation_12</text><text x="60.1" y="51.5">Activation</text><text x="60.1" y="82.2">float32</text><text x="156.7" y="28.4">input:</text><text x="156.7" y="74.5">output:</text><text x="271.8" y="28.4">(None, 1, 1, 2048)</text><text x="271.8" y="74.5">(None, 1, 1, 2048)</text></g>

<g id="global_average_pooling2d" transform="translate(487,6365.8)"><path class="b" d="M0 0H444.4V92.3H0ZM214.1 0V92.3M287 0V92.3M0 30.8H214.1M0 61.5H214.1M214.1 46.2H444.4"/><text x="107.1" y="20.7">global_average_pooling2d</text><text x="107.1" y="51.5">GlobalAveragePooling2D</text><text x="107.1" y="82.2">float32</text><text x="250.6" y="28.4">input:</text><text x="250.6" y="74.5">output:</text><text x="365.7" y="28.4">(None, 1, 1, 2048)</text><text x="365.7" y="74.5">(None, 2048)</text></g>

<g id="dense" transform="translate(576.8,6507.2)"><path class="b" d="M0 0H264.8V92.3H0ZM72.9 0V92.3M146.6 0V92.3M0 30.8H72.9M0 61.5H72.9M72.9 46.2H264.8"/><text x="36.5" y="20.7">dense</text><text x="36.5" y="51.5">Dense</text><text x="36.5" y="82.2">float32</text><text x="109.8" y="28.4">input:</text><text x="109.8" y="74.5">output:</text><text x="205.7" y="28.4">(None, 2048)</text><text x="205.7" y="74.5">(None, 10)</text></g>
</svg>
